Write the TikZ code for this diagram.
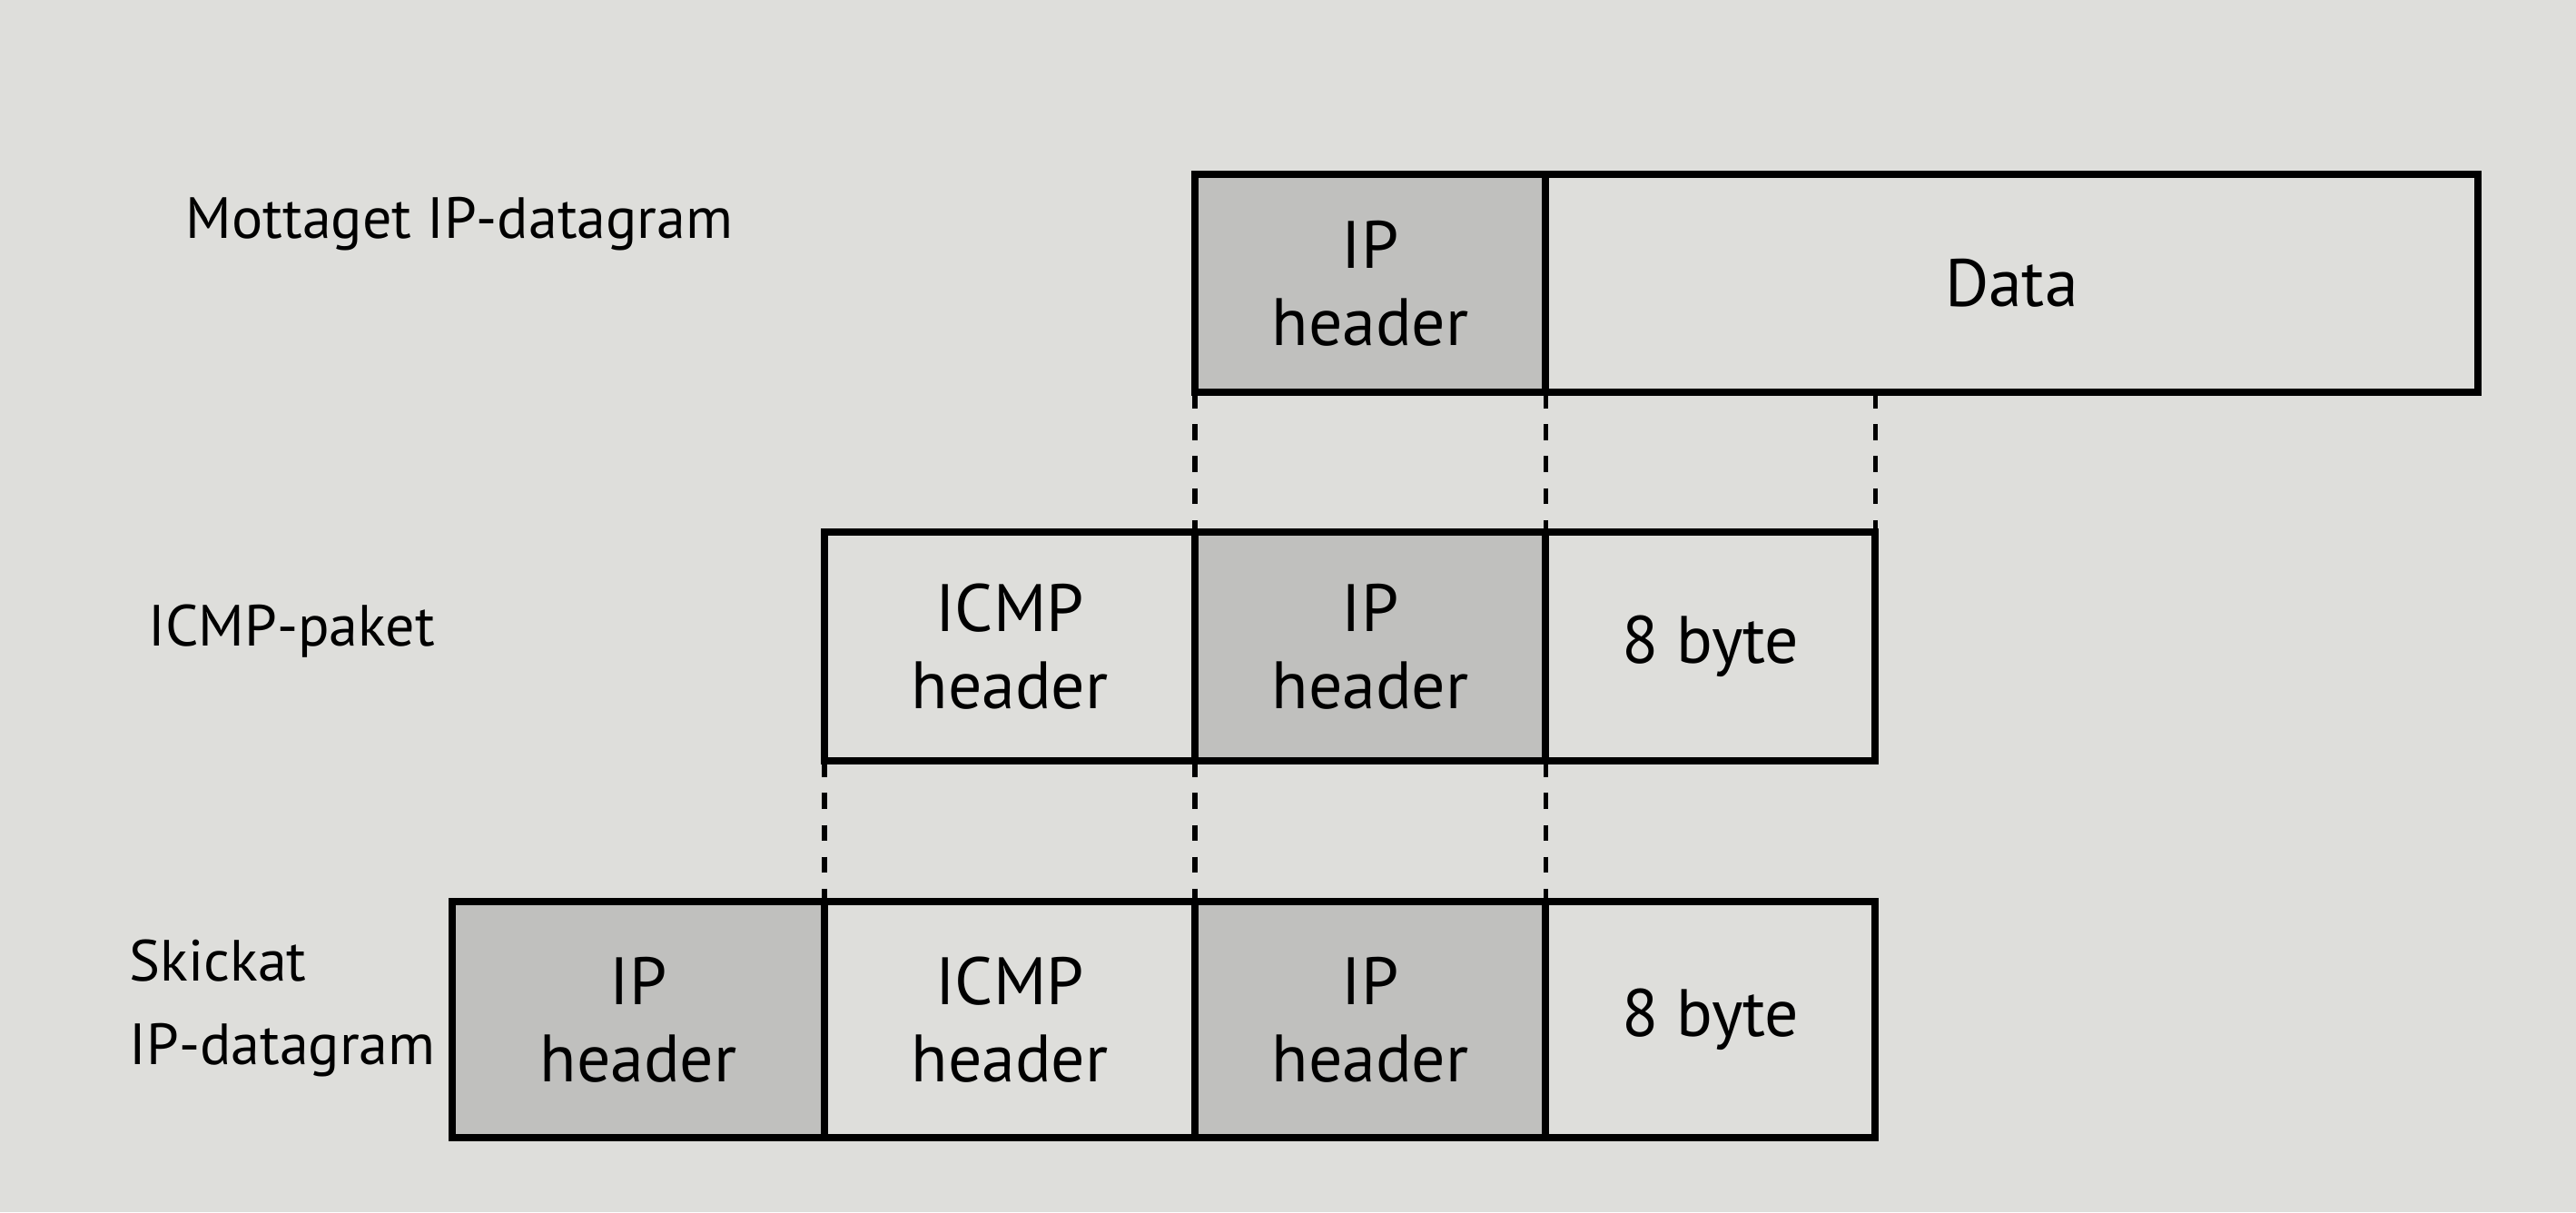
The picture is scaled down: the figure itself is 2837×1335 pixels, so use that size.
\documentclass[tikz,border=0pt]{standalone}
\usepackage{fontspec}
\setmainfont{PT Sans}
\definecolor{paper}{RGB}{222,222,219}
\definecolor{hdr}{RGB}{192,192,190}
\begin{document}
\begin{tikzpicture}[x=0.01cm,y=-0.01cm,
  box/.style={font=\fontsize{21}{24.2}\selectfont, draw=black, line width=2.3pt, fill=paper,
    rectangle, anchor=north west, inner sep=0pt, outer sep=0pt, align=center},
  hbox/.style={box, fill=hdr},
  lbl/.style={font=\fontsize{18.2}{26}\selectfont, anchor=base west, inner sep=0pt, align=left},
  conn/.style={line width=1.5pt, dash pattern=on 5pt off 5pt}]
\fill[paper] (0,0) rectangle (2837,1335);
\useasboundingbox (0,0) rectangle (2837,1335);

% Row 1: Mottaget IP-datagram
\node[lbl] (l1) at (204,262) {Mottaget IP-datagram};
\node[hbox, minimum width=3.86cm, minimum height=2.40cm] (ip1) at (1316,192) {IP\\header};
\node[box, minimum width=10.26cm, minimum height=2.40cm] (data1) at (1702,192) {Data};

% Row 2: ICMP-paket
\node[lbl] (l2) at (163,711) {ICMP-paket};
\node[box, minimum width=4.08cm, minimum height=2.52cm] (icmp2) at (908,586) {ICMP\\header};
\node[hbox, minimum width=3.86cm, minimum height=2.52cm] (ip2) at (1316,586) {IP\\header};
\node[box, minimum width=3.63cm, minimum height=2.52cm] (byte2) at (1702,586) {8 byte};

% Row 3: Skickat IP-datagram
\node[lbl] (l3) at (142,1172) {Skickat\\IP-datagram};
\node[hbox, minimum width=4.10cm, minimum height=2.60cm] (ip3) at (498,993) {IP\\header};
\node[box, minimum width=4.08cm, minimum height=2.60cm] (icmp3) at (908,993) {ICMP\\header};
\node[hbox, minimum width=3.86cm, minimum height=2.60cm] (ip3b) at (1316,993) {IP\\header};
\node[box, minimum width=3.63cm, minimum height=2.60cm] (byte3) at (1702,993) {8 byte};

% dashed connectors row 1 -> row 2
\draw[conn] (ip1.south west) -- (ip2.north west);
\draw[conn] (ip1.south east) -- (ip2.north east);
\draw[conn] (byte2.north east |- data1.south) -- (byte2.north east);

% dashed connectors row 2 -> row 3
\draw[conn] (icmp2.south west) -- (icmp3.north west);
\draw[conn] (ip2.south west) -- (ip3b.north west);
\draw[conn] (ip2.south east) -- (ip3b.north east);
\end{tikzpicture}
\end{document}
